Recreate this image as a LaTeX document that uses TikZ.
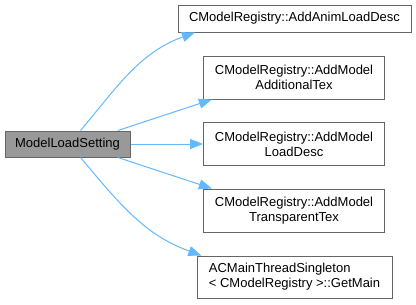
\documentclass[tikz,border=0pt]{standalone}
\usepackage{fontspec}
\setmainfont{Liberation Sans}
\usetikzlibrary{arrows.meta}
\definecolor{edgeblue}{HTML}{63B8FF}
\definecolor{boxline}{HTML}{666666}
\definecolor{boxfill}{HTML}{999999}

\begin{document}
\begin{tikzpicture}[x=0.75pt,y=-0.75pt,
        fn/.style={draw=boxline,fill=white,line width=0.75pt,inner sep=0pt,align=center,
                font=\fontsize{9.75}{11.25}\selectfont},
        midfn/.style={fn,minimum width=135.75pt,minimum height=32.25pt},
        call/.style={draw=edgeblue,line width=0.75pt,-{Triangle[length=9.75pt,width=7.5pt]}}]
        \useasboundingbox (0,0) rectangle (416,304);
        % caller and the functions it calls
        \node[fn,fill=boxfill,minimum width=93.75pt,minimum height=19.5pt] (setting) at (67.5,144) {ModelLoadSetting};
        \node[fn,minimum width=174.75pt,minimum height=20.25pt] (anim) at (294.5,18.5) {CModelRegistry::AddAnimLoadDesc};
        \node[midfn] (addtex) at (294,77.5) {CModelRegistry::AddModel\\AdditionalTex};
        \node[midfn] (loaddesc) at (294,144) {CModelRegistry::AddModel\\LoadDesc};
        \node[midfn] (transp) at (294,210.5) {CModelRegistry::AddModel\\TransparentTex};
        \node[fn,align=left,minimum width=146.25pt,minimum height=31.5pt] (getmain) at (294.5,277) {ACMainThreadSingleton\\< CModelRegistry >::GetMain};
        % calls
        \draw[call] (setting.46) to[out=50,in=200] (anim.188);
        \draw[call] (setting.15) -- (addtex.195);
        \draw[call] (setting.east) -- (loaddesc.west);
        \draw[call] (setting.-15) -- (transp.165);
        \draw[call] (setting.-46) to[out=-50,in=160] (getmain.167);
\end{tikzpicture}
\end{document}
